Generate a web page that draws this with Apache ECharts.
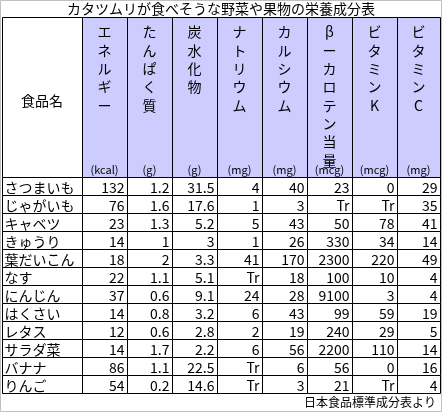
<!DOCTYPE html><html><head><meta charset="utf-8">
<script src="https://cdn.jsdelivr.net/npm/echarts@6/dist/echarts.min.js"></script>
<style>html,body{margin:0;padding:0;background:#fff}#c{width:442px;height:412px}</style></head><body><div id="c"></div>
<script>
const title='カタツムリが食べそうな野菜や果物の栄養成分表';
const source='日本食品標準成分表より';
const nameHeader='食品名';
const headers=['エネルギー','たんぱく質','炭水化物','ナトリウム','カルシウム','βーカロテン当量','ビタミンK','ビタミンC'];
const units=['(kcal)','(g)','(g)','(mg)','(mg)','(mcg)','(mcg)','(mg)'];
const foods=['さつまいも','じゃがいも','キャベツ','きゅうり','葉だいこん','なす','にんじん','はくさい','レタス','サラダ菜','バナナ','りんご'];
const energy=[132,76,23,14,18,22,37,14,12,14,86,54];
const protein=[1.2,1.6,1.3,1,2,1.1,0.6,0.8,0.6,1.7,1.1,0.2];
const carbs=[31.5,17.6,5.2,3,3.3,5.1,9.1,3.2,2.8,2.2,22.5,14.6];
const sodium=[4,1,5,1,41,'Tr',24,6,2,6,'Tr','Tr'];
const calcium=[40,3,43,26,170,18,28,43,19,56,6,3];
const carotene=[23,'Tr',50,330,2300,100,9100,99,240,2200,56,21];
const vitK=[0,'Tr',78,34,220,10,3,59,29,110,0,'Tr'];
const vitC=[29,35,41,14,49,4,4,19,5,14,16,4];
const cols=[energy,protein,carbs,sodium,calcium,carotene,vitK,vitC];
const edges=[0,80,125,170,215,260,305,350,395,438];
const FONT='"Noto Sans CJK JP"';
const data=[];
foods.forEach((f,r)=>{data.push([0,r,f]);cols.forEach((a,c)=>data.push([c+1,r,String(a[r])]));});
const chart=echarts.init(document.getElementById('c'));
const L=2,T=177,W=438,H=216,HT=17;
const graphic=[
 {type:'rect',shape:{x:0.5,y:0.5,width:441,height:411},style:{fill:'none',stroke:'#c0c0c0',lineWidth:1}},
 {type:'text',x:221,y:9,style:{text:title,font:'14px '+FONT,fill:'#000',textAlign:'center',textVerticalAlign:'middle'}},
 {type:'text',x:436,y:402,style:{text:source,font:'12px '+FONT,fill:'#000',textAlign:'right',textVerticalAlign:'middle'}},
 {type:'rect',shape:{x:L+0.5,y:HT+0.5,width:edges[1],height:T-HT},style:{fill:'#fff',stroke:'#000',lineWidth:1}},
 {type:'text',x:L+edges[1]/2,y:(HT+T)/2+4,style:{text:nameHeader,font:'14px '+FONT,fill:'#000',textAlign:'center',textVerticalAlign:'middle'}}
];
headers.forEach((h,i)=>{
 const x0=L+edges[i+1],x1=L+edges[i+2];
 graphic.push({type:'rect',shape:{x:x0+0.5,y:HT+0.5,width:x1-x0,height:T-HT},style:{fill:'#ccccff',stroke:'#000',lineWidth:1}});
 graphic.push({type:'text',x:(x0+x1)/2,y:HT+6,style:{text:h.split('').join('\n'),font:'14px '+FONT,lineHeight:18.3,fill:'#000',textAlign:'center',textVerticalAlign:'top'}});
 graphic.push({type:'text',x:(x0+x1)/2,y:T-7,style:{text:units[i],font:'11px '+FONT,fill:'#000',textAlign:'center',textVerticalAlign:'middle'}});
});
chart.setOption({
 animation:false,
 grid:{left:L,top:T,width:W,height:H},
 xAxis:{type:'value',min:0,max:438,show:false},
 yAxis:{type:'value',min:0,max:12,inverse:true,show:false},
 graphic:graphic,
 series:[{type:'custom',data:data,renderItem:(p,api)=>{
  const c=api.value(0),r=api.value(1),t=data[p.dataIndex][2];
  const a=api.coord([edges[c],r]),b=api.coord([edges[c+1],r+1]);
  const x=Math.round(a[0])+0.5,y=Math.round(a[1])+0.5,w=Math.round(b[0]-a[0]),h=Math.round(b[1]-a[1]);
  return {type:'group',children:[
   {type:'rect',shape:{x:x,y:y,width:w,height:h},style:{fill:'#fff',stroke:'#000',lineWidth:1}},
   {type:'text',x:c===0?x+2:x+w-3,y:y+h/2+1,style:{text:t,font:'14px '+FONT,fill:'#000',textAlign:c===0?'left':'right',textVerticalAlign:'middle'}}
  ]};
 }}]
});
</script></body></html>
